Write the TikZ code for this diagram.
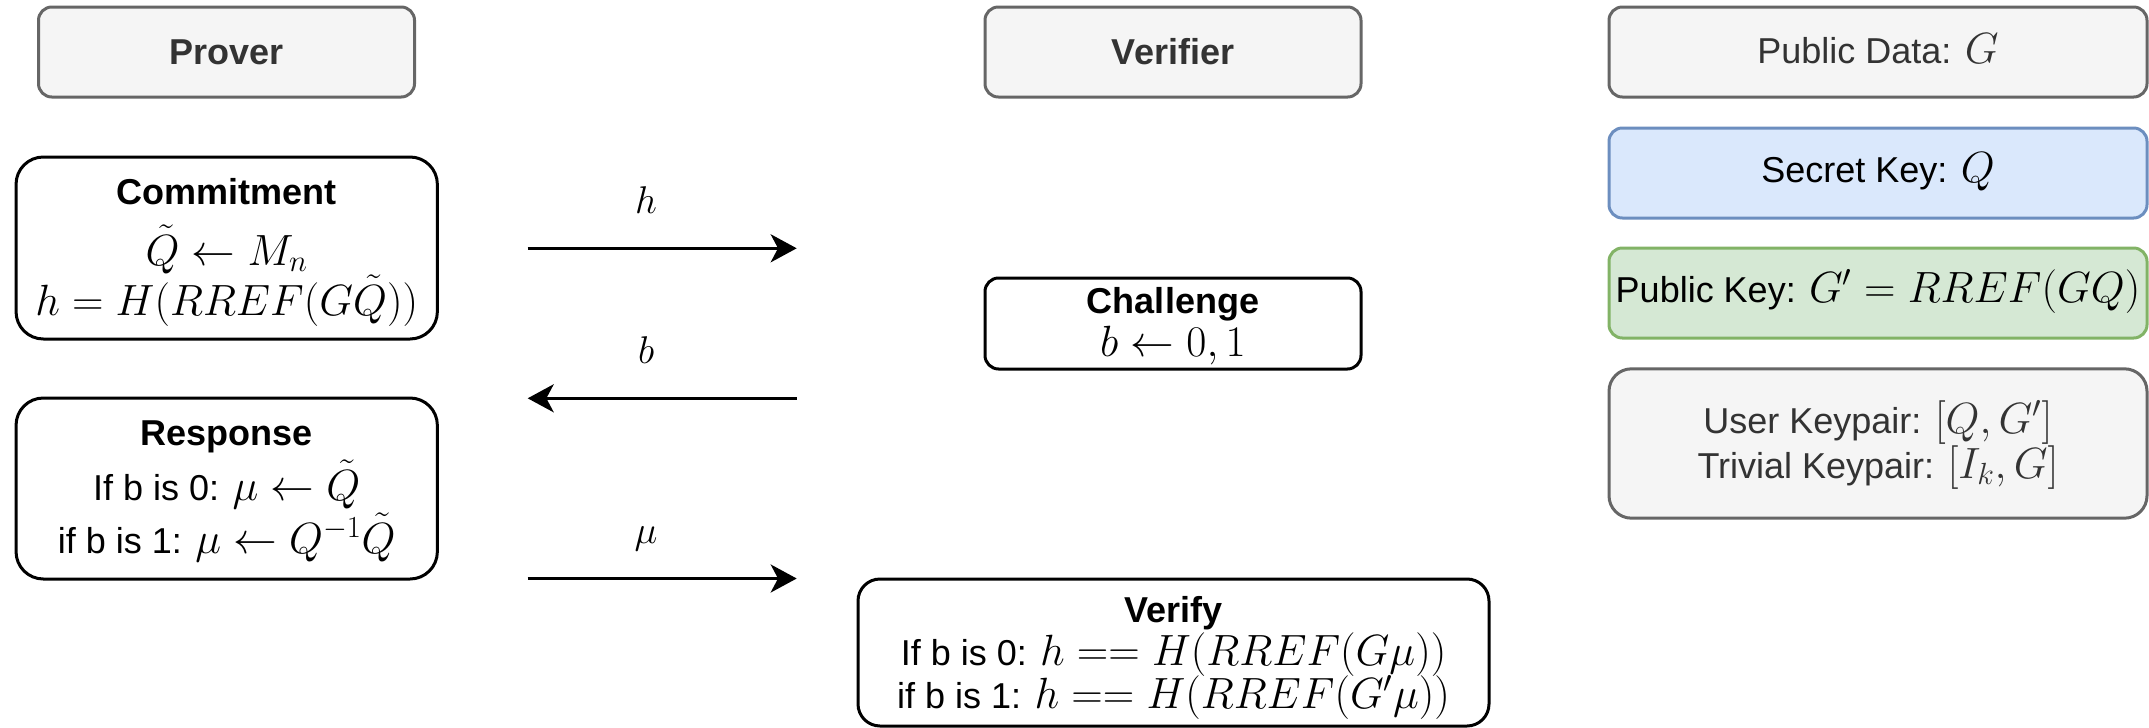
\RequirePackage{fix-cm}
\documentclass[tikz,border=0pt]{standalone}
\usepackage[no-math]{fontspec}
\setmainfont{Liberation Sans}
\usetikzlibrary{arrows.meta}

\definecolor{grayfill}{HTML}{F5F5F5}
\definecolor{graydraw}{HTML}{666666}
\definecolor{graytext}{HTML}{333333}
\definecolor{bluefill}{HTML}{DAE8FC}
\definecolor{bluedraw}{HTML}{6C8EBF}
\definecolor{greenfill}{HTML}{D5E8D4}
\definecolor{greendraw}{HTML}{82B366}

% maths set a little larger than the surrounding text
\newcommand\mth[1]{{\fontsize{32.8}{32.8}\selectfont$#1$}}
% text at 27pt with a fixed distance between baselines
\newcommand\bodyfont[1]{\fontsize{27}{#1}\selectfont\lineskiplimit-100pt\relax}

\begin{document}
\begin{tikzpicture}[x=0.75pt, y=-0.75pt,
  base/.style={rectangle, line width=2.25pt, inner sep=0pt, align=center},
  header/.style={base, draw=graydraw, fill=grayfill, text=graytext,
    rounded corners=10pt, minimum width=282pt, minimum height=67.5pt,
    font={\bodyfont{32}\bfseries}, text height=18.75pt, text depth=0pt},
  sidebox/.style={base, rounded corners=10pt, minimum width=403.5pt, minimum height=67.5pt,
    font={\bodyfont{32}}, text depth=0pt},
  stepbox/.style={base, draw=black, fill=white, text=black, text depth=0pt},
  arr/.style={line width=2.25pt, -{Stealth[length=19.5pt, width=21pt, inset=5.5pt]}},
  lbl/.style={anchor=base, inner sep=0pt, yshift=26.25pt, font={\fontsize{29}{29}\selectfont}}
]
\useasboundingbox (0,0) rectangle (2149,728);

% role headers
\node[header] (prover) at (226.5,52) {Prover};
\node[header] (verifier) at (1173,52) {Verifier};

% public data and keys
\node[sidebox, draw=graydraw, fill=grayfill, text=graytext, text height=16.5pt]
  (pubdata) at (1878,52) {Public Data: \mth{G}};
\node[sidebox, draw=bluedraw, fill=bluefill, text=black, text height=13.5pt]
  (secret) at (1878,173) {Secret Key: \mth{Q}};
\node[sidebox, draw=greendraw, fill=greenfill, text=black, text height=13.5pt]
  (pubkey) at (1878,293) {Public Key: \mth{G'=RREF(GQ)}};
\node[base, draw=graydraw, fill=grayfill, text=graytext, rounded corners=16.8pt,
  minimum width=403.5pt, minimum height=112pt,
  font={\bodyfont{33.75}}, text height=51.75pt, text depth=0pt]
  (keypair) at (1878,443.5) {User Keypair: \mth{[Q,G']}\\Trivial Keypair: \mth{[I_k,G]}};

% protocol steps
\node[stepbox, rounded corners=20.5pt, minimum width=316pt, minimum height=136.5pt,
  font={\bodyfont{37.5}}, text height=100.5pt]
  (commit) at (226.7,248) {{\bfseries Commitment}\\[8.25pt]\mth{\tilde{Q}\leftarrow M_n}\\\mth{h=H(RREF(G\tilde{Q}))}};
\node[stepbox, rounded corners=20.5pt, minimum width=316pt, minimum height=135.75pt,
  font={\bodyfont{39.75}}, text height=96.75pt]
  (response) at (226.7,488.5) {{\bfseries Response}\\[1.5pt]If b is 0: \mth{\mu\leftarrow\tilde{Q}}\\if b is 1: \mth{\mu\leftarrow Q^{-1}\tilde{Q}}};
\node[stepbox, rounded corners=10.2pt, minimum width=282pt, minimum height=68.25pt,
  font={\bodyfont{32.25}}, text height=48.75pt]
  (challenge) at (1173,323.5) {{\bfseries Challenge}\\\mth{b\leftarrow 0,1}};
\node[stepbox, rounded corners=16.5pt, minimum width=473.25pt, minimum height=110.25pt,
  font={\bodyfont{32.25}}, text height=83.25pt]
  (verify) at (1173.5,652.5) {{\bfseries Verify}\\If b is 0: \mth{h==H(RREF(G\mu))}\\if b is 1: \mth{h==H(RREF(G'\mu))}};

% messages exchanged
\coordinate (hs) at (527.7,248.3);
\coordinate (he) at (796.7,248.3);
\coordinate (bs) at (796.7,398.3);
\coordinate (be) at (527.7,398.3);
\coordinate (ms) at (527.7,578.5);
\coordinate (me) at (796.7,578.5);
\draw[arr] (hs) -- node[lbl, pos=0.44] (hlab) {$h$} (he);
\draw[arr] (bs) -- node[lbl, pos=0.56] (blab) {$b$} (be);
\draw[arr] (ms) -- node[lbl, pos=0.44] (mlab) {$\mu$} (me);
\end{tikzpicture}
\end{document}
